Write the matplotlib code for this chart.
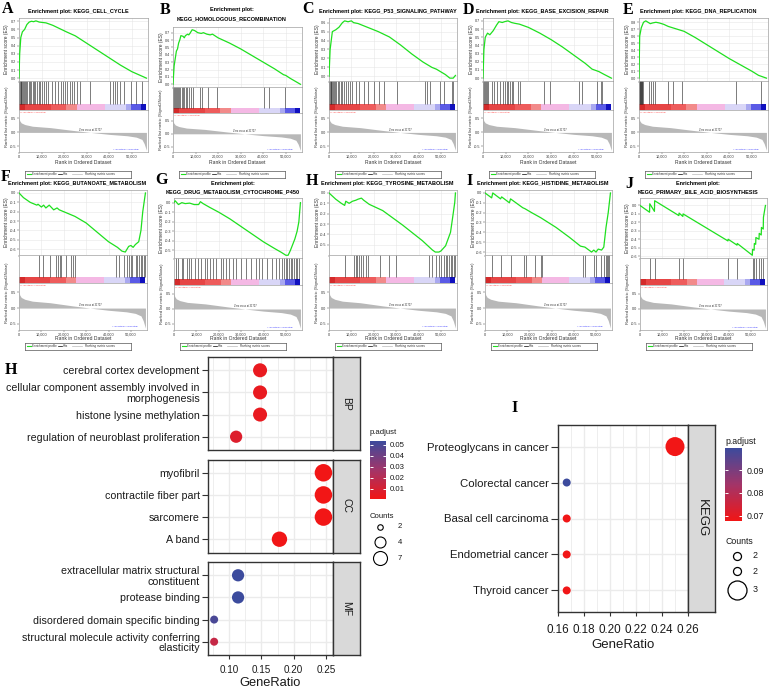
import numpy as np
import matplotlib
matplotlib.use("Agg")
import matplotlib.pyplot as plt
from matplotlib.colors import LinearSegmentedColormap, Normalize

plt.rcParams['font.family'] = ['Liberation Sans', 'DejaVu Sans']

W, H = 777, 689
fig = plt.figure(figsize=(W / 100, H / 100), dpi=100)
renderer = fig.canvas.get_renderer()


def px_ax(x0, y0, x1, y1):
    return fig.add_axes([x0 / W, 1 - y1 / H, (x1 - x0) / W, (y1 - y0) / H])


def ftext(x, y, s, **kw):
    return fig.text(x / W, 1 - y / H, s, **kw)


# ====================== GSEA data ======================
XMAX = 57200
ZERO_CROSS = 31707
RANK_TICKS = [0, 10000, 20000, 30000, 40000, 50000]
RANK_TICKLABELS = ["0", "10,000", "20,000", "30,000", "40,000", "50,000"]
RANK_X = [0, 300, 1000, 2600, 6000, 14000, 24000, 31707, 40000, 48000, 52000, 54500, 55500, 56500]
RANK_Y = [0.55, 0.42, 0.34, 0.28, 0.22, 0.17, 0.07, 0.0, -0.07, -0.12, -0.17, -0.25, -0.40, -0.64]
CBAR_EDGES = [0, 2600, 14000, 21000, 25500, 38000, 47500, 49500, 54000, 56500]
CBAR_COLORS = ["#d42a2a", "#e64545", "#ee5c5c", "#f28a8a", "#f4b8e4",
               "#d9d6f7", "#a9a8f0", "#5a5ae6", "#1010bf"]

ES_A_X = [0, 300, 800, 1500, 2500, 3500, 4500, 5500, 6500, 7500, 9000, 10500, 12000, 15000,
          18000, 21000, 25000, 30000, 35000, 40000, 45000, 50000, 56500]
ES_A_Y = [0, 0.30, 0.50, 0.57, 0.60, 0.66, 0.69, 0.70, 0.695, 0.705, 0.69, 0.685, 0.68, 0.65,
          0.61, 0.57, 0.52, 0.43, 0.34, 0.25, 0.16, 0.08, 0.0]
HITS_A = [200, 500, 800, 1100, 1500, 1900, 2300, 2800, 3200, 3700, 4300, 4900, 5400, 6000, 6600,
          7300, 8000, 8800, 9500, 10200, 11000, 12000, 13000, 14500, 16000, 17500, 18500, 19500,
          20500, 21500, 22500, 23500, 24500, 25800, 27000, 31700, 40300, 41500, 42500, 43500,
          44700, 46400, 49800, 52000, 54500]

ES_B_X = [0, 500, 1000, 1500, 2000, 2500, 3000, 3500, 4500, 5000, 5500, 6500, 7000, 7500, 8500,
          9500, 11000, 12500, 13500, 15000, 16500, 17500, 20000, 25000, 30000, 35000, 40000,
          45000, 49000, 50000, 52000, 56500]
ES_B_Y = [0, 0.25, 0.35, 0.45, 0.48, 0.56, 0.60, 0.66, 0.65, 0.63, 0.66, 0.68, 0.67, 0.69, 0.74,
          0.73, 0.70, 0.69, 0.70, 0.68, 0.67, 0.68, 0.63, 0.56, 0.48, 0.39, 0.30, 0.21, 0.13,
          0.12, 0.08, 0.0]
HITS_B = [100, 400, 800, 1200, 1700, 2300, 2800, 3300, 3900, 4400, 5000, 5600, 6200, 7000, 8000,
          8800, 12000, 12900, 15300, 19700, 40200, 42400, 49700]

ES_C_X = [0, 500, 1500, 3000, 4500, 6000, 7000, 8500, 10000, 11000, 13000, 17000, 22000, 27000,
          32000, 37000, 42000, 46000, 48000, 50000, 52000, 54000, 55500, 56500]
ES_C_Y = [0, 0.30, 0.50, 0.52, 0.55, 0.60, 0.62, 0.61, 0.62, 0.60, 0.59, 0.55, 0.50, 0.44, 0.35,
          0.25, 0.16, 0.10, 0.08, 0.05, 0.02, -0.02, -0.02, 0.01]
HITS_C = [100, 400, 700, 1000, 1400, 1800, 2300, 2800, 3300, 3900, 4600, 5300, 6000, 6700, 7500,
          8500, 9500, 10500, 12100, 13600, 15800, 17300, 20200, 22400, 24600, 30500, 43100,
          43800, 45300, 49700, 51200, 54900, 55600]

ES_D_X = [0, 400, 1000, 2000, 3000, 4500, 6000, 7000, 8500, 9500, 11000, 12500, 14000, 16000,
          20000, 25000, 30000, 35000, 40000, 45000, 48000, 50000, 51000, 53000, 56500]
ES_D_Y = [0, 0.35, 0.50, 0.55, 0.53, 0.58, 0.65, 0.69, 0.68, 0.69, 0.70, 0.68, 0.67, 0.66, 0.62,
          0.55, 0.47, 0.38, 0.28, 0.18, 0.11, 0.09, 0.08, 0.05, 0.0]
HITS_D = [150, 500, 900, 1300, 1600, 2400, 3800, 4900, 6000, 7500, 9000, 9700, 10500, 11200,
          11900, 12700, 13400, 15600, 16400, 26700, 29600, 42200, 43700, 50300, 51800, 52500]

ES_E_X = [0, 300, 1000, 2000, 3000, 4000, 5000, 6000, 7500, 9000, 11000, 13000, 15000, 17000,
          20000, 25000, 30000, 35000, 40000, 45000, 50000, 53000, 56500]
ES_E_Y = [0, 0.60, 0.72, 0.80, 0.82, 0.80, 0.78, 0.79, 0.80, 0.79, 0.77, 0.74, 0.72, 0.70, 0.67,
          0.58, 0.48, 0.38, 0.28, 0.19, 0.10, 0.04, 0.0]
HITS_E = [150, 400, 600, 800, 1000, 1300, 1500, 1900, 4600, 5200, 6000, 7100, 13000, 15200,
          18900, 43200, 54300]

ES_F_X = [0, 2000, 5000, 8000, 8500, 10000, 11000, 12000, 13500, 15500, 17000, 18000, 20000,
          23000, 25000, 30000, 35000, 40000, 44000, 46000, 47500, 49000, 50000, 51000, 52000,
          53500, 54500, 55300, 56500]
ES_F_Y = [0, -0.05, -0.10, -0.13, -0.12, -0.15, -0.13, -0.16, -0.13, -0.18, -0.16, -0.18, -0.20,
          -0.23, -0.25, -0.32, -0.42, -0.52, -0.58, -0.62, -0.63, -0.57, -0.56, -0.58, -0.55,
          -0.52, -0.40, -0.20, 0.0]
HITS_F = [9000, 10800, 13700, 16700, 17400, 18100, 18900, 20800, 23300, 24000, 25200, 43200,
          44700, 46900, 48400, 49100, 49900, 50600, 52100, 52800, 53500, 54300, 55000, 55700,
          56200]

ES_G_X = [0, 500, 2000, 3500, 5000, 7000, 9000, 11000, 11800, 13000, 16000, 20000, 25000, 30000,
          35000, 40000, 45000, 48000, 50000, 51000, 52000, 53000, 54000, 55000, 55800, 56500]
ES_G_Y = [0, 0.02, -0.02, 0.0, -0.01, -0.005, -0.02, -0.02, 0.01, -0.01, -0.05, -0.10, -0.17,
          -0.25, -0.33, -0.41, -0.48, -0.52, -0.55, -0.55, -0.50, -0.44, -0.38, -0.30, -0.20, 0.0]
HITS_G = [900, 1900, 3400, 4100, 5600, 6800, 7800, 9300, 10800, 12200, 13700, 14750, 15900,
          17400, 18900, 21100, 22100, 23300, 24800, 26300, 27700, 29900, 32200, 34400, 36600,
          38100, 39500, 41700, 44000, 45400, 46900, 48400, 49100, 49900, 50600, 51300, 52100,
          52800, 53500, 54300, 55000, 55800]

ES_H_X = [0, 3000, 5500, 7000, 7500, 9000, 10500, 12000, 13000, 14500, 15500, 18000, 24000,
          32900, 41700, 46200, 47500, 49100, 50000, 52100, 54300, 55300, 56200, 56500]
ES_H_Y = [0, -0.06, -0.10, -0.12, -0.08, -0.10, -0.08, -0.07, -0.06, -0.05, -0.07, -0.11, -0.17,
          -0.31, -0.46, -0.55, -0.57, -0.57, -0.56, -0.51, -0.38, -0.23, -0.09, 0.0]
HITS_H = [7100, 11100, 11900, 12500, 13400, 14500, 15200, 16400, 17400, 22600, 27000, 29900,
          44700, 45900, 47600, 49100, 49900, 51300, 52100, 52800, 53500, 54300, 55000, 55800,
          56200]

ES_I_X = [0, 3000, 3500, 7000, 7500, 11000, 11500, 17000, 18000, 21000, 25000, 32000, 38000,
          43000, 45000, 48000, 49000, 50000, 51000, 52500, 53500, 54500, 55500, 56500]
ES_I_Y = [0, -0.05, 0.0, -0.06, -0.04, -0.10, -0.06, -0.15, -0.16, -0.20, -0.25, -0.35, -0.45,
          -0.54, -0.55, -0.60, -0.58, -0.60, -0.57, -0.58, -0.55, -0.35, -0.20, 0.0]
HITS_I = [3200, 7100, 11500, 17700, 18400, 22600, 25100, 25800, 44300, 45000, 49100, 50200,
          52100, 53800, 54600, 55000, 55600, 56000]

ES_J_X = [0, 4300, 4400, 6500, 6600, 17500, 17600, 19300, 19400, 39600, 39700, 43700, 43800,
          50600, 50700, 51400, 51500, 52100, 52200, 53600, 53700, 54600, 54700, 55500, 55600,
          56500]
ES_J_Y = [0, -0.08, 0.02, -0.07, 0.056, -0.12, -0.09, -0.13, -0.10, -0.42, -0.40, -0.47, -0.45,
          -0.59, -0.52, -0.53, -0.45, -0.46, -0.38, -0.40, -0.33, -0.35, -0.26, -0.28, -0.14, 0.0]
HITS_J = [4400, 6600, 17600, 19400, 39700, 43800, 50700, 51500, 52200, 53700, 54700, 55600]

# ====================== GO / KEGG data ======================
GO_BP_TERMS = ["cerebral cortex development",
               "cellular component assembly involved in\nmorphogenesis",
               "histone lysine methylation",
               "regulation of neuroblast proliferation"]
GO_BP_RATIO = [0.148, 0.148, 0.148, 0.111]
GO_BP_PADJ = [0.004, 0.004, 0.004, 0.008]
GO_BP_COUNT = [4, 4, 4, 3]

GO_CC_TERMS = ["myofibril", "contractile fiber part", "sarcomere", "A band"]
GO_CC_RATIO = [0.246, 0.246, 0.246, 0.178]
GO_CC_PADJ = [0.0009, 0.0009, 0.0009, 0.0015]
GO_CC_COUNT = [7, 7, 7, 5]

GO_MF_TERMS = ["extracellular matrix structural\nconstituent",
               "protease binding",
               "disordered domain specific binding",
               "structural molecule activity conferring\nelasticity"]
GO_MF_RATIO = [0.114, 0.114, 0.077, 0.077]
GO_MF_PADJ = [0.0536, 0.0536, 0.050, 0.016]
GO_MF_COUNT = [3, 3, 2, 2]
GO_PADJ_TICKS = [0.01, 0.02, 0.03, 0.04, 0.05]
GO_COUNT_LEGEND = [2, 4, 7]

KEGG_TERMS = ["Proteoglycans in cancer", "Colorectal cancer", "Basal cell carcinoma",
              "Endometrial cancer", "Thyroid cancer"]
KEGG_RATIO = [0.25, 0.1667, 0.1667, 0.1667, 0.1667]
KEGG_PADJ = [0.0678, 0.0996, 0.0680, 0.0680, 0.0680]
KEGG_COUNT = [3, 2, 2, 2, 2]
KEGG_PADJ_TICKS = [0.07, 0.08, 0.09]
KEGG_COUNT_LEGEND = [2, 2, 3]

# ====================== GSEA drawing ======================
GEOM = {
    (1, 1): dict(title=[11], es=(18, 81), hits=(81, 110), cbar=6, rank=(110, 152), xlab=163, legend=174),
    (1, 2): dict(title=[10, 19], es=(27, 87), hits=(87, 113), cbar=5, rank=(113, 152), xlab=163, legend=174),
    (2, 1): dict(title=[183], es=(190, 255), hits=(255, 283), cbar=6, rank=(283, 330), xlab=338, legend=346),
    (2, 2): dict(title=[183, 192], es=(198, 258), hits=(258, 285), cbar=6, rank=(285, 330), xlab=338, legend=346),
}

_t = ftext(0, 0, "Enrichment plot: KEGG_CELL_CYCLE", fontsize=10, fontweight='bold')
TITLE_FS = 10 * 101 / _t.get_window_extent(renderer=renderer).width
_t.remove()

GREEN = '#1fe01f'
LEG_FS = 2.2


def gsea_style(ax):
    for s in ax.spines.values():
        s.set_color('#a0a0a0')
        s.set_linewidth(0.5)
    ax.tick_params(labelsize=2.7, length=1.2, width=0.3, pad=0.8, colors='#333333')


def draw_gsea(letter, letter_xy, title_lines, L, R, row, es_x, es_y, hits):
    g = GEOM[(row, len(title_lines))]
    cx = (L + R) / 2 - 5.5
    for s, ty in zip(title_lines, g['title']):
        ftext(cx, ty, s, fontsize=TITLE_FS, fontweight='bold', ha='center', va='center')
    ftext(letter_xy[0], letter_xy[1], letter, fontsize=11.5, fontweight='bold',
          family=['Liberation Serif', 'DejaVu Serif'], ha='center', va='center')

    # --- ES panel
    t, b = g['es']
    ax1 = px_ax(L, t, R, b)
    ax1.plot(es_x, es_y, color=GREEN, lw=0.9, zorder=3)
    lo, hi = min(es_y), max(es_y)
    pad = 0.05 * (hi - lo)
    ax1.set_ylim(lo - pad, hi + pad)
    ticks = np.arange(np.ceil((lo - pad) * 10 - 1e-9), np.floor((hi + pad) * 10 + 1e-9) + 1) / 10
    ax1.set_yticks(ticks)
    ax1.set_yticklabels(["0.0" if abs(v) < 1e-9 else f"{v:.1f}" for v in ticks])
    ax1.set_xlim(0, XMAX)
    ax1.set_xticks(RANK_TICKS)
    ax1.tick_params(axis='x', labelbottom=False, length=0)
    ax1.grid(color='#e6e6e6', lw=0.4)
    ax1.set_axisbelow(True)
    gsea_style(ax1)
    ftext(L - 12, (t + b) / 2, "Enrichment score (ES)", rotation=90, fontsize=3.5,
          ha='center', va='center', color='#333333')

    # --- hits panel with colour bar
    ht, hb = g['hits']
    ax2 = px_ax(L, ht, R, hb)
    ax2.set_xlim(0, XMAX)
    ax2.set_ylim(0, 1)
    cf = g['cbar'] / (hb - ht)
    ax2.vlines(hits, cf, 1, color='#1a1a1a', lw=0.5, alpha=0.8)
    segs = [(CBAR_EDGES[i], CBAR_EDGES[i + 1] - CBAR_EDGES[i]) for i in range(len(CBAR_COLORS))]
    ax2.broken_barh(segs, (0, cf), facecolors=CBAR_COLORS, lw=0)
    ax2.set_xticks([])
    ax2.set_yticks([])
    gsea_style(ax2)

    # --- ranked list metric
    rt, rb = g['rank']
    ax3 = px_ax(L, rt, R, rb)
    ax3.fill_between(RANK_X, RANK_Y, 0, color='#b8b8b8', lw=0)
    ax3.set_xlim(0, XMAX)
    ax3.set_ylim(-0.7, 0.8)
    ax3.set_yticks([0.5, 0.0, -0.5])
    ax3.set_yticklabels(["0.5", "0.0", "-0.5"])
    ax3.set_xticks(RANK_TICKS)
    ax3.set_xticklabels(RANK_TICKLABELS)
    gsea_style(ax3)
    ax3.text(300, 0.72, "'h' (positively correlated)", fontsize=1.7, color='#ff3030', va='center')
    ax3.text(ZERO_CROSS, 0.03, "Zero cross at 31707", fontsize=1.8, color='#333333',
             ha='center', va='bottom')
    ax3.text(47500, -0.6, "'l' (negatively correlated)", fontsize=1.7, color='#4040ff',
             ha='center', va='center')
    ftext(L - 12, (ht + rb) / 2, "Ranked list metric (Signal2Noise)", rotation=90, fontsize=3.0,
          ha='center', va='center', color='#333333')
    ftext((L + R) / 2, g['xlab'], "Rank in Ordered Dataset", fontsize=3.6, ha='center',
          va='center', color='#333333')

    # --- legend box
    yc = g['legend']
    axl = px_ax(L + 6, yc - 3.5, L + 112, yc + 3.5)
    axl.set_xlim(0, 1)
    axl.set_ylim(0, 1)
    axl.set_xticks([])
    axl.set_yticks([])
    for s in axl.spines.values():
        s.set_color('#555555')
        s.set_linewidth(0.5)
    axl.plot([0.015, 0.06], [0.5, 0.5], color=GREEN, lw=0.8)
    axl.text(0.068, 0.5, "Enrichment profile", fontsize=LEG_FS, va='center', color='#333333')
    axl.plot([0.315, 0.35], [0.5, 0.5], color='black', lw=0.5)
    axl.text(0.36, 0.5, "Hits", fontsize=LEG_FS, va='center', color='#333333')
    axl.plot([0.44, 0.54], [0.5, 0.5], color='#bbbbbb', lw=0.5)
    axl.text(0.57, 0.5, "Ranking metric scores", fontsize=LEG_FS, va='center', color='#333333')


draw_gsea("A", (8, 9), ["Enrichment plot: KEGG_CELL_CYCLE"], 19, 148, 1, ES_A_X, ES_A_Y, HITS_A)
draw_gsea("B", (165, 10), ["Enrichment plot:", "KEGG_HOMOLOGOUS_RECOMBINATION"], 173, 302, 1,
          ES_B_X, ES_B_Y, HITS_B)
draw_gsea("C", (308, 9), ["Enrichment plot: KEGG_P53_SIGNALING_PATHWAY"], 329, 457, 1,
          ES_C_X, ES_C_Y, HITS_C)
draw_gsea("D", (468, 10), ["Enrichment plot: KEGG_BASE_EXCISION_REPAIR"], 483, 613, 1,
          ES_D_X, ES_D_Y, HITS_D)
draw_gsea("E", (628, 10), ["Enrichment plot: KEGG_DNA_REPLICATION"], 639, 768, 1,
          ES_E_X, ES_E_Y, HITS_E)
draw_gsea("F", (6, 177), ["Enrichment plot: KEGG_BUTANOATE_METABOLISM"], 19, 147, 2,
          ES_F_X, ES_F_Y, HITS_F)
draw_gsea("G", (161, 180), ["Enrichment plot:", "KEGG_DRUG_METABOLISM_CYTOCHROME_P450"], 174, 302, 2,
          ES_G_X, ES_G_Y, HITS_G)
draw_gsea("H", (312, 181), ["Enrichment plot: KEGG_TYROSINE_METABOLISM"], 329, 457, 2,
          ES_H_X, ES_H_Y, HITS_H)
draw_gsea("I", (470, 181), ["Enrichment plot: KEGG_HISTIDINE_METABOLISM"], 485, 612, 2,
          ES_I_X, ES_I_Y, HITS_I)
draw_gsea("J", (629, 184), ["Enrichment plot:", "KEGG_PRIMARY_BILE_ACID_BIOSYNTHESIS"], 640, 767, 2,
          ES_J_X, ES_J_Y, HITS_J)

# ====================== dot plots ======================
P_CMAP = LinearSegmentedColormap.from_list('padj', ['#f21616', '#a33569', '#3c4b9d'])
TXT = '#1a1a1a'
FRAME = '#333333'


def diam_fun(cmin, cmax, dmin, dmax):
    def f(c):
        return dmin + (dmax - dmin) * np.sqrt((c - cmin) / (cmax - cmin))
    return f


def dot_facet(ax, terms, ratio, padj, count, norm, dfun, xlim, major, minor, show_x,
              lab_fs, tick_fs, ylen, xpad):
    y = np.arange(len(terms))
    sizes = [(0.72 * dfun(c)) ** 2 for c in count]
    ax.scatter(ratio, y, s=sizes, c=padj, cmap=P_CMAP, norm=norm, linewidths=0, zorder=3)
    ax.set_ylim(len(terms) - 0.4, -0.6)
    ax.set_yticks(y)
    ax.set_yticklabels(terms, linespacing=1.05)
    ax.set_xlim(*xlim)
    ax.set_xticks(major)
    ax.set_xticks(minor, minor=True)
    ax.grid(True, which='major', color='#ebebeb', lw=1.0)
    ax.grid(True, which='minor', axis='x', color='#ebebeb', lw=0.6)
    ax.set_axisbelow(True)
    for s in ax.spines.values():
        s.set_color(FRAME)
        s.set_linewidth(1.0)
    ax.tick_params(axis='y', length=ylen, width=0.8, color=FRAME, labelsize=lab_fs, pad=2.0,
                   labelcolor=TXT)
    ax.tick_params(axis='x', which='minor', length=0)
    if show_x:
        ax.set_xticklabels([f"{v:.2f}" for v in major])
        ax.tick_params(axis='x', which='major', length=3, width=0.8, color=FRAME,
                       labelsize=tick_fs, pad=xpad, labelcolor=TXT)
    else:
        ax.tick_params(axis='x', which='major', length=0, labelbottom=False)


def strip(x0, y0, x1, y1, label, fs):
    ax = px_ax(x0, y0, x1, y1)
    ax.set_facecolor('#d9d9d9')
    ax.set_xticks([])
    ax.set_yticks([])
    for s in ax.spines.values():
        s.set_color(FRAME)
        s.set_linewidth(1.0)
    ax.text(0.5, 0.5, label, rotation=-90, ha='center', va='center', fontsize=fs,
            color=TXT, transform=ax.transAxes)


def colorbar(x0, y0, x1, y1, vmin, vmax, ticks, fs):
    ax = px_ax(x0, y0, x1, y1)
    grad = np.linspace(vmin, vmax, 256)[:, None]
    ax.imshow(grad, cmap=P_CMAP, norm=Normalize(vmin, vmax), origin='lower', aspect='auto',
              extent=(0, 1, vmin, vmax))
    ax.set_xlim(0, 1)
    ax.set_ylim(vmin, vmax)
    ax.hlines(ticks, 0, 0.2, color='white', lw=0.7)
    ax.hlines(ticks, 0.8, 1, color='white', lw=0.7)
    ax.set_xticks([])
    ax.yaxis.tick_right()
    ax.set_yticks(ticks)
    ax.set_yticklabels([f"{v:.2f}" for v in ticks])
    ax.tick_params(axis='y', length=0, labelsize=fs, pad=3, labelcolor=TXT)
    for s in ax.spines.values():
        s.set_visible(False)


# ---------- panel H (GO) ----------
go_all_padj = GO_BP_PADJ + GO_CC_PADJ + GO_MF_PADJ
go_norm = Normalize(min(go_all_padj), max(go_all_padj))
go_d = diam_fun(2, 7, 8, 17.5)
GO_XLIM = (0.0675, 0.2608)
GO_MAJOR = [0.10, 0.15, 0.20, 0.25]
GO_MINOR = [0.075, 0.125, 0.175, 0.225]
facets = [(357, 450, GO_BP_TERMS, GO_BP_RATIO, GO_BP_PADJ, GO_BP_COUNT, "BP"),
          (459.5, 552.5, GO_CC_TERMS, GO_CC_RATIO, GO_CC_PADJ, GO_CC_COUNT, "CC"),
          (562, 655, GO_MF_TERMS, GO_MF_RATIO, GO_MF_PADJ, GO_MF_COUNT, "MF")]
for i, (t, b, terms, ratio, padj, count, lab) in enumerate(facets):
    ax = px_ax(208, t, 333, b)
    dot_facet(ax, terms, ratio, padj, count, go_norm, go_d, GO_XLIM, GO_MAJOR, GO_MINOR,
              i == 2, 7.7, 7.1, 4.0, 4.5)
    strip(333, t, 360, b, lab, 7.5)
ftext(270, 683, "GeneRatio", fontsize=9.3, ha='center', va='center', color=TXT)
ftext(11, 370, "H", fontsize=11.5, fontweight='bold', family=['Liberation Serif', 'DejaVu Serif'],
      ha='center', va='center')

ftext(370, 433, "p.adjust", fontsize=5.6, ha='left', va='center', color=TXT)
colorbar(370, 441, 386, 499, min(go_all_padj), max(go_all_padj), GO_PADJ_TICKS, 5.6)
ftext(370, 517, "Counts", fontsize=5.6, ha='left', va='center', color=TXT)
axc = px_ax(370, 520, 420, 570)
axc.set_xlim(370, 420)
axc.set_ylim(570, 520)
axc.axis('off')
for c, yy, dd in zip(GO_COUNT_LEGEND, [527, 542, 558], [5.5, 11, 14]):
    axc.scatter([380], [yy], s=(0.72 * dd) ** 2, facecolors='white', edgecolors='black',
                linewidths=0.8)
    axc.text(398, yy, str(c), fontsize=5.6, va='center', ha='left', color=TXT)

# ---------- panel I (KEGG) ----------
kegg_norm = Normalize(min(KEGG_PADJ), max(KEGG_PADJ))
kegg_d = diam_fun(2, 3, 8, 19)
axk = px_ax(558, 425, 688, 612)
dot_facet(axk, KEGG_TERMS, KEGG_RATIO, KEGG_PADJ, KEGG_COUNT, kegg_norm, kegg_d, (0.16, 0.26),
          [0.16, 0.18, 0.20, 0.22, 0.24, 0.26], [0.17, 0.19, 0.21, 0.23, 0.25], True,
          8.2, 8.4, 4.8, 5.5)
strip(688, 425, 715, 612, "KEGG", 9.5)
ftext(623, 645, "GeneRatio", fontsize=9.5, ha='center', va='center', color=TXT)
ftext(515, 408, "I", fontsize=11.5, fontweight='bold', family=['Liberation Serif', 'DejaVu Serif'],
      ha='center', va='center')

ftext(725, 441, "p.adjust", fontsize=6.3, ha='left', va='center', color=TXT)
colorbar(725, 448, 742, 521, min(KEGG_PADJ), max(KEGG_PADJ), KEGG_PADJ_TICKS, 6.4)
ftext(726, 541, "Counts", fontsize=6.3, ha='left', va='center', color=TXT)
axc2 = px_ax(725, 545, 775, 600)
axc2.set_xlim(725, 775)
axc2.set_ylim(600, 545)
axc2.axis('off')
for c, yy in zip(KEGG_COUNT_LEGEND, [556, 571, 590]):
    axc2.scatter([737], [yy], s=(0.72 * kegg_d(c)) ** 2, facecolors='white', edgecolors='black',
                 linewidths=0.9)
    axc2.text(753, yy, str(c), fontsize=6.4, va='center', ha='left', color=TXT)

fig.savefig("out.png", dpi=100)
